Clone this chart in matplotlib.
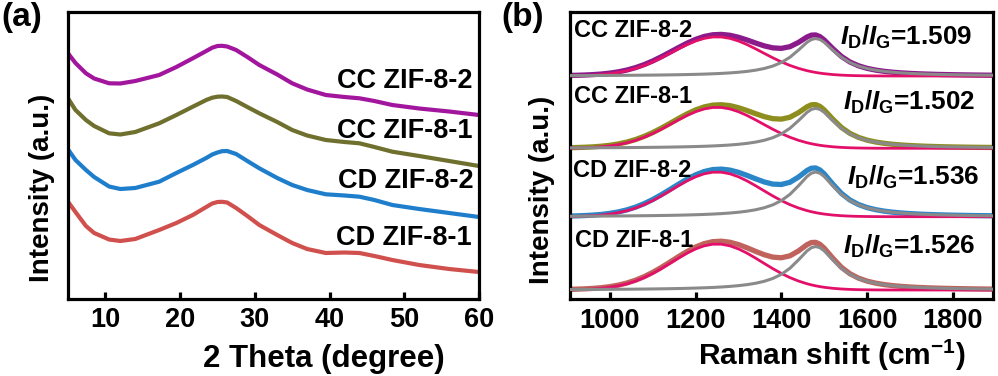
import matplotlib
matplotlib.use("Agg")
import matplotlib.pyplot as plt
import numpy as np

plt.rcParams['font.family'] = ['Liberation Sans', 'DejaVu Sans']
plt.rcParams['font.weight'] = 'bold'
plt.rcParams['mathtext.fontset'] = 'custom'
plt.rcParams['mathtext.rm'] = 'Liberation Sans:bold'
plt.rcParams['mathtext.bf'] = 'Liberation Sans:bold'
plt.rcParams['mathtext.it'] = 'Liberation Sans:bold:italic'

# ---------------- (a) XRD data ----------------
xrd_theta = [5, 6, 7.4, 8.5, 10.5, 12, 14, 17.2, 19.5, 21.7, 23.5, 24.3, 25, 25.6,
             26.3, 27.5, 29, 30.6, 33, 35, 37, 39.5, 42, 44, 46, 48.4, 52, 56, 60]
xrd_cd1 = [98.3, 88, 74, 67, 60.5, 59, 61, 70, 77, 85, 93, 96.5, 98, 98.2, 97.5, 92,
           84, 75, 65, 57, 51, 47, 47.5, 47, 44, 40, 35, 31, 28]
xrd_cd2 = [150.7, 140, 130, 123, 113.5, 111, 112, 118.3, 127, 135, 142, 145.5, 147.5,
           148.8, 149, 146, 139, 131.7, 122, 115, 110, 105.7, 104.5, 103.3, 100, 95,
           91, 87, 83]
xrd_cc1 = [201.7, 190, 180, 174, 166.7, 165.5, 168, 176.7, 185, 193.3, 200, 202.3,
           203.3, 203.5, 203, 199, 193, 186.7, 178, 170, 164.5, 160, 158, 156.7, 153,
           148.3, 144, 139, 134]
xrd_cc2 = [246.7, 237, 226.7, 221.5, 216.7, 216.5, 219, 225, 233, 241.7, 249, 252.3,
           254, 254.2, 253.5, 250, 243, 235, 225.5, 216.7, 210.5, 205, 203, 201.7,
           199, 195, 191.5, 188.5, 185]
xrd_labels = ['CD ZIF-8-1', 'CD ZIF-8-2', 'CC ZIF-8-1', 'CC ZIF-8-2']
xrd_ticks = [10, 20, 30, 40, 50, 60]

# ---------------- (b) Raman data ----------------
raman_shift = [900, 920, 940, 960, 980, 1000, 1020, 1040, 1060, 1080, 1100, 1120,
               1140, 1160, 1180, 1200, 1220, 1240, 1260, 1280, 1300, 1320, 1340,
               1360, 1380, 1400, 1420, 1440, 1460, 1470, 1480, 1490, 1500, 1520,
               1540, 1560, 1580, 1600, 1620, 1640, 1660, 1680, 1700, 1720, 1740,
               1760, 1780, 1800, 1820, 1840, 1860, 1880, 1900]
d_band = [0.0039, 0.0072, 0.0128, 0.0221, 0.0367, 0.0588, 0.0908, 0.1353, 0.1945,
          0.2696, 0.3604, 0.4647, 0.5777, 0.6926, 0.8007, 0.8928, 0.9600, 0.9955,
          0.9955, 0.9600, 0.8928, 0.8007, 0.6926, 0.5777, 0.4647, 0.3604, 0.2696,
          0.1945, 0.1353, 0.1114, 0.0908, 0.0734, 0.0588, 0.0367, 0.0221, 0.0128,
          0.0072, 0.0039, 0.0020, 0.0010, 0.0005, 0.0002, 0.0001, 0, 0, 0, 0, 0,
          0, 0, 0, 0, 0]
g_band = [0.0106, 0.0113, 0.0122, 0.0131, 0.0142, 0.0154, 0.0167, 0.0183, 0.0200,
          0.0220, 0.0243, 0.0270, 0.0302, 0.0340, 0.0385, 0.0439, 0.0506, 0.0588,
          0.0692, 0.0826, 0.1000, 0.1233, 0.1552, 0.2000, 0.2647, 0.3600, 0.5000,
          0.6923, 0.9000, 0.9730, 1.0000, 0.9730, 0.9000, 0.6923, 0.5000, 0.3600,
          0.2647, 0.2000, 0.1552, 0.1233, 0.1000, 0.0826, 0.0692, 0.0588, 0.0506,
          0.0439, 0.0385, 0.0340, 0.0302, 0.0270, 0.0243, 0.0220, 0.0200]
raman_labels = ['CD ZIF-8-1', 'CD ZIF-8-2', 'CC ZIF-8-1', 'CC ZIF-8-2']
raman_offsets = [10, 83.3, 151.7, 224]
d_amp = [46, 44.7, 41, 39.2]
g_amp = [43.5, 44.7, 40, 37.5]
id_ig = ['1.526', '1.536', '1.502', '1.509']
raman_ticks = [1000, 1200, 1400, 1600, 1800]

xrd_colors = ['#D0504E', '#1F7ECC', '#6F6F2E', '#A2169E']
raman_colors = ['#C0635C', '#2B86C8', '#8E8E1E', '#8B1A8B']
d_color = '#E3106A'
g_color = '#8A8A8A'

fig = plt.figure(figsize=(9.98, 3.76), dpi=100)
axa = fig.add_axes([68 / 998, 1 - 299 / 376, 411 / 998, 287 / 376])
axb = fig.add_axes([570 / 998, 1 - 299.3 / 376, 422.7 / 998, 287.3 / 376])

# ---- panel (a)
for ys, c in zip([xrd_cd1, xrd_cd2, xrd_cc1, xrd_cc2], xrd_colors):
    axa.plot(xrd_theta, ys, color=c, lw=3.0, solid_joinstyle='round')
axa.set_xlim(5, 60)
axa.set_ylim(1, 288)
axa.set_xticks(xrd_ticks)
axa.set_yticks([])
lab_pos_a = [(0.982, 0.188), (0.988, 0.386), (0.985, 0.560), (0.985, 0.734)]
for (xf, yf), t in zip(lab_pos_a, xrd_labels):
    axa.text(xf, yf, t, transform=axa.transAxes, ha='right', va='baseline',
             fontsize=19.5, fontweight='bold')
axa.set_xlabel('2 Theta (degree)', fontsize=22.5, fontweight='bold', va='baseline')
axa.xaxis.set_label_coords(0.623, -0.236)
axa.set_ylabel('Intensity (a.u.)', fontsize=20, fontweight='bold')
axa.yaxis.set_label_coords(-0.032, 0.388)

# ---- panel (b)
xs = np.array(raman_shift, dtype=float)
D = np.array(d_band)
G = np.array(g_band)
for off, ad, ag, c in zip(raman_offsets, d_amp, g_amp, raman_colors):
    axb.plot(xs, off + ad * D + ag * G, color=c, lw=3.8, zorder=2)
    axb.plot(xs, off + ad * D, color=d_color, lw=2.0, zorder=3)
    axb.plot(xs, off + ag * G, color=g_color, lw=2.2, zorder=4)
axb.set_xlim(907, 1893)
axb.set_ylim(0.7, 288)
axb.set_xticks(raman_ticks)
axb.set_yticks([])
lab_pos_b = [(0.012, 0.183), (0.0063, 0.427), (0.0095, 0.682), (0.0095, 0.912)]
for (xf, yf), t in zip(lab_pos_b, raman_labels):
    axb.text(xf, yf, t, transform=axb.transAxes, ha='left', va='baseline',
             fontsize=17, fontweight='bold')
ratio_pos = [(0.647, 0.160), (0.655, 0.398), (0.647, 0.659), (0.639, 0.885)]
for (xf, yf), r in zip(ratio_pos, id_ig):
    axb.text(xf, yf, r'$I_{\mathrm{D}}/I_{\mathrm{G}}$=' + r, transform=axb.transAxes,
             ha='left', va='baseline', fontsize=18.8, fontweight='bold')
axb.set_xlabel(r'Raman shift (cm$^{\mathbf{-1}}$)', fontsize=21.5, fontweight='bold',
               va='baseline')
axb.xaxis.set_label_coords(0.619, -0.229)
axb.set_ylabel('Intensity (a.u.)', fontsize=20, fontweight='bold')
axb.yaxis.set_label_coords(-0.035, 0.382)

for ax in (axa, axb):
    for s in ax.spines.values():
        s.set_linewidth(2.3)
    ax.tick_params(axis='x', direction='in', length=5, width=2.3, labelsize=19.5, pad=6)
    for lab in ax.get_xticklabels():
        lab.set_fontweight('bold')

fig.text(0.001, 0.995, '(a)', ha='left', va='top', fontsize=24, fontweight='bold')
fig.text(0.502, 0.995, '(b)', ha='left', va='top', fontsize=24, fontweight='bold')

fig.savefig('out.png', dpi=100)
